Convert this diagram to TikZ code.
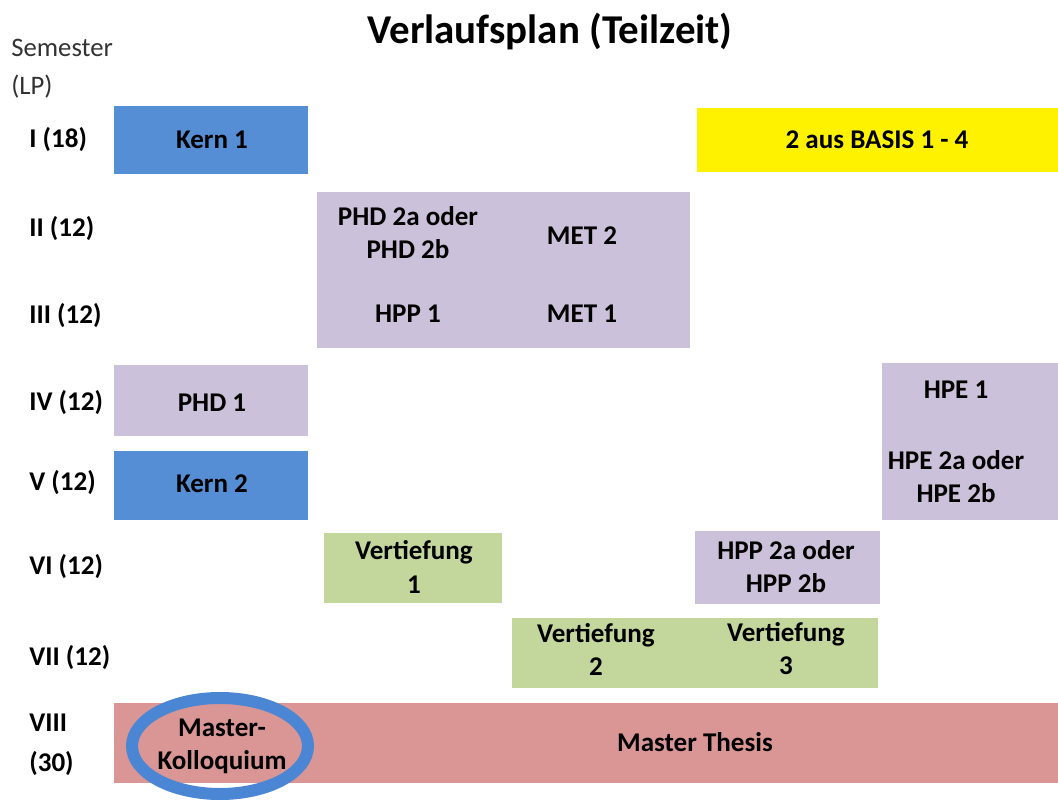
\documentclass[tikz,border=0pt]{standalone}
\usepackage{fontspec}
\setmainfont{Carlito}
\definecolor{kernblue}{HTML}{558ED5}
\definecolor{modlila}{HTML}{CCC1DA}
\definecolor{vertgreen}{HTML}{C3D69B}
\definecolor{thesisred}{HTML}{D99694}
\definecolor{ringblue}{HTML}{4A86D4}
\tikzset{
  boxtext/.style={font=\bfseries\fontsize{15.4}{18.8}\selectfont, align=center, inner sep=0pt},
  semtext/.style={font=\bfseries\fontsize{15.4}{22.6}\selectfont, anchor=west, align=left, inner sep=0pt},
}

\begin{document}
\begin{tikzpicture}[x=0.02cm, y=-0.02cm]
            \useasboundingbox (0,0) rectangle (1058,800);

            % Kaesten
            \fill[kernblue] (114,106) rectangle (308,174);
            \fill[yellow] (697,108) rectangle (1058,172);
            \fill[modlila] (317,192) rectangle (690,348);
            \fill[modlila] (114,365) rectangle (308,436);
            \fill[kernblue] (114,451) rectangle (308,520);
            \fill[modlila] (882,363) rectangle (1058,520);
            \fill[vertgreen] (324,533) rectangle (502,603);
            \fill[modlila] (695,531) rectangle (880,604);
            \fill[vertgreen] (512,618) rectangle (878,688);
            \fill[thesisred] (114,703) rectangle (1058,783);

            \node[font=\bfseries\fontsize{23.3}{28}\selectfont] (title) at (550,32) {Verlaufsplan (Teilzeit)};
            \node[font=\fontsize{15.2}{21.6}\selectfont, anchor=north west, align=left, inner sep=0pt, text=black!80] (semhead) at (11,39) {Semester\\(LP)};

            \foreach \y / \t [count=\i] in {140/I (18), 229/II (12), 316/III (12), 403/IV (12), 483/V (12), 567/VI (12), 658/VII (12), 745/VIII\\(30)}
                {
                    \node[semtext] (sem\i) at (29, \y){\t};
                }

            \node[boxtext] (kern1) at (212,140){Kern 1};
            \node[boxtext] (basis) at (877,140){2 aus BASIS 1 - 4};
            \node[boxtext] (phd2) at (408,233){PHD 2a oder\\PHD 2b};
            \node[boxtext] (met2) at (582,236){MET 2};
            \node[boxtext] (hpp1) at (408,314){HPP 1};
            \node[boxtext] (met1) at (582,314){MET 1};
            \node[boxtext] (phd1) at (212,403){PHD 1};
            \node[boxtext] (kern2) at (212,484){Kern 2};
            \node[boxtext] (hpe1) at (956,390){HPE 1};
            \node[boxtext] (hpe2) at (956,477){HPE 2a oder\\HPE 2b};
            \node[boxtext] (vert1) at (414,567){Vertiefung\\1};
            \node[boxtext] (hpp2) at (786,567){HPP 2a oder\\HPP 2b};
            \node[boxtext] (vert2) at (596,649){Vertiefung\\2};
            \node[boxtext] (vert3) at (786,649){Vertiefung\\3};
            \node[boxtext] (thesis) at (695,742){Master Thesis};
            \node[boxtext] (kollo) at (222,746){Master-\\Kolloquium};

            \draw[ringblue, line width=0.24cm] (220,746) ellipse [x radius=88, y radius=48];

        \end{tikzpicture}
\end{document}
